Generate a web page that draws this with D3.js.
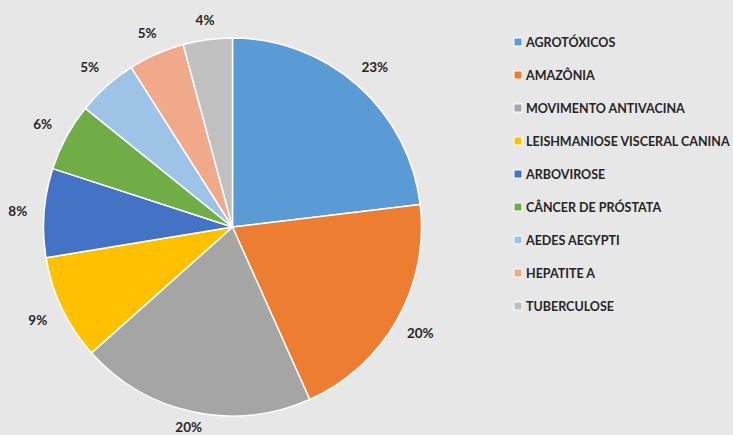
<!DOCTYPE html>
<html><head><meta charset="utf-8">
<script src="https://cdn.jsdelivr.net/npm/d3@7"></script>
<style>html,body{margin:0;padding:0;background:#e7e7e7;}svg{display:block;}</style>
</head><body><svg id="c" width="733" height="435"></svg>
<script>
const categories = ["AGROTÓXICOS","AMAZÔNIA","MOVIMENTO ANTIVACINA","LEISHMANIOSE VISCERAL CANINA","ARBOVIROSE","CÂNCER DE PRÓSTATA","AEDES AEGYPTI","HEPATITE A","TUBERCULOSE"];
const values = [23.1, 20.2, 20.1, 9.0, 7.6, 5.8, 5.2, 4.8, 4.2];
const colors = ["#5b9bd5","#ed7d31","#a5a5a5","#ffc000","#4472c4","#70ad47","#9dc3e6","#f0a98a","#c0c0c0"];

const svg = d3.select("#c");
svg.append("rect").attr("width",733).attr("height",435).attr("fill","#e7e7e7");
const cx = 232.5, cy = 227, R = 189;
const total = d3.sum(values);
const pie = d3.pie().sort(null).value(d=>d)(values);
const arc = d3.arc().innerRadius(0).outerRadius(R);
const g = svg.append("g").attr("transform",`translate(${cx},${cy})`);
g.selectAll("path").data(pie).join("path")
  .attr("d",arc).attr("fill",(d,i)=>colors[i])
  .attr("stroke","#fff").attr("stroke-width",1.5).attr("stroke-linejoin","round");

const font = "Lato, 'Open Sans', sans-serif";
g.selectAll("text.lbl").data(pie).join("text").attr("class","lbl")
  .each(function(d){
    const a = (d.startAngle+d.endAngle)/2;
    const s = Math.sin(a), c = Math.cos(a);
    const txt = Math.round(d.value/total*100)+"%";
    const r = R + 13 + Math.abs(s)*13 + Math.abs(c)*5;
    d3.select(this).attr("x", s*r).attr("y", Math.min(-c*r, 427 - cy)).text(txt);
  })
  .attr("text-anchor","middle").attr("dominant-baseline","central")
  .attr("font-family",font).attr("font-weight","bold").attr("font-size","13.5px").attr("fill","#262626");

const lg = svg.append("g");
const rows = lg.selectAll("g").data(categories).join("g")
  .attr("transform",(d,i)=>`translate(514,${42+i*33})`);
rows.append("rect").attr("x",0).attr("y",-4).attr("width",8).attr("height",8)
  .attr("fill",(d,i)=>colors[i]).attr("stroke","#fff").attr("stroke-width",1);
rows.append("text").attr("x",12).attr("y",0).attr("dominant-baseline","central")
  .attr("font-family",font).attr("font-weight","bold").attr("font-size","12.5px").attr("fill","#262626")
  .text(d=>d);
</script></body></html>
